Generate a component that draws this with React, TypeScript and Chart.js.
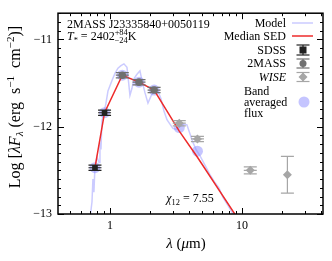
import React, { useEffect, useRef } from 'react';
import { Chart, registerables } from 'chart.js';
Chart.register(...registerables);

// ---- Data ----
const modelWave = [0.706, 0.731, 0.743, 0.756, 0.769, 0.797, 0.826, 0.84, 0.855, 0.87, 0.901, 0.933, 0.966, 1.0, 1.036, 1.091, 1.15, 1.211, 1.276, 1.345, 1.369, 1.417, 1.468, 1.52, 1.602, 1.687, 1.747, 1.841, 1.94, 2.045, 2.192, 2.31, 2.434, 2.565, 2.703, 2.848, 3.001, 3.162, 3.39, 3.637, 3.83, 4.036, 4.253, 4.482, 4.8, 5.24, 5.72, 6.24, 6.69, 7.18, 7.83, 8.55, 9.33];
const modelFlux = [-13.05, -12.86, -12.6, -12.75, -12.47, -12.35, -12.41, -12.18, -12.26, -11.93, -11.84, -11.73, -11.59, -11.53, -11.47, -11.39, -11.33, -11.3, -11.28, -11.32, -11.42, -11.64, -11.56, -11.45, -11.4, -11.36, -11.47, -11.61, -11.73, -11.65, -11.57, -11.59, -11.68, -11.82, -11.92, -11.97, -12.02, -12.03, -12.0, -11.97, -11.98, -12.08, -12.18, -12.26, -12.33, -12.44, -12.55, -12.64, -12.7, -12.81, -12.9, -13.0, -13.09];

const sedWave = [0.77, 0.91, 1.24, 1.66, 2.16, 3.35, 4.6, 9.0, 12.0];
const sedFlux = [-12.47, -11.84, -11.41, -11.49, -11.58, -12.05, -12.35, -13.02, -13.3];

const sdssWave = [0.77, 0.91];
const sdssFlux = [-12.47, -11.84];
const sdssErr = [0.03, 0.03];

const tmassWave = [1.24, 1.66, 2.16];
const tmassFlux = [-11.41, -11.49, -11.58];
const tmassErr = [0.03, 0.03, 0.03];

const wiseWave = [3.35, 4.6, 11.56, 22.09];
const wiseFlux = [-11.96, -12.14, -12.5, -12.55];
const wiseErr = [0.03, 0.03, 0.04, 0.21];
const wiseShowX = [true, true, true, false];

const bandWave = [0.77, 0.91, 1.24, 1.66, 2.16, 3.35, 4.6];
const bandFlux = [-12.47, -11.84, -11.41, -11.49, -11.58, -12.01, -12.28];

const xMajorTicks = [1, 10];
const xMinorTicks = [0.5, 0.6, 0.7, 0.8, 0.9, 2, 3, 4, 5, 6, 7, 8, 9, 20, 30, 40];
const yMajorTicks = [-13, -12, -11];

const X_MIN = 0.404;
const X_MAX = 41.1;
const Y_MIN = -13;
const Y_MAX = -10.7;

// ---- Styles ----
const SERIF = '"Liberation Serif", "DejaVu Serif", serif';
const MODEL_COLOR = 'rgba(130,130,255,0.42)';
const BAND_COLOR = 'rgba(140,140,255,0.5)';
const RED = '#ee2b2b';
const SDSS_COLOR = '#222222';
const TMASS_COLOR = '#707070';
const WISE_COLOR = '#a6a6a6';

const fnt = (size: number, italic = false) => `${italic ? 'italic ' : ''}${size}px ${SERIF}`;

type Piece = { t: string; s?: number; dy?: number; i?: boolean; over?: boolean };

function drawRich(ctx: CanvasRenderingContext2D, pieces: Piece[], x: number, y: number, base: number, align: 'left' | 'center' | 'right') {
  const widths: number[] = [];
  let total = 0;
  let prevStart = 0;
  let prevEnd = 0;
  for (const p of pieces) {
    ctx.font = fnt(base * (p.s ?? 1), p.i);
    widths.push(ctx.measureText(p.t).width);
  }
  {
    let cx = 0;
    pieces.forEach((p, k) => {
      if (p.over) {
        cx = Math.max(prevEnd, prevStart + widths[k]);
      } else {
        prevStart = cx;
        cx += widths[k];
        prevEnd = cx;
      }
    });
    total = cx;
  }
  let cx = align === 'center' ? x - total / 2 : align === 'right' ? x - total : x;
  prevStart = cx;
  prevEnd = cx;
  ctx.textAlign = 'left';
  ctx.textBaseline = 'alphabetic';
  pieces.forEach((p, k) => {
    ctx.font = fnt(base * (p.s ?? 1), p.i);
    if (p.over) {
      ctx.fillText(p.t, prevStart, y + (p.dy ?? 0));
      cx = Math.max(prevEnd, prevStart + widths[k]);
    } else {
      ctx.fillText(p.t, cx, y + (p.dy ?? 0));
      prevStart = cx;
      cx += widths[k];
      prevEnd = cx;
    }
  });
}

function line(ctx: CanvasRenderingContext2D, x1: number, y1: number, x2: number, y2: number) {
  ctx.beginPath();
  ctx.moveTo(x1, y1);
  ctx.lineTo(x2, y2);
  ctx.stroke();
}

function drawErr(ctx: CanvasRenderingContext2D, px: number, py: number, ylo: number, yhi: number, color: string, showX: boolean) {
  ctx.save();
  ctx.strokeStyle = color;
  ctx.lineWidth = 1.2;
  const cap = 6.5;
  line(ctx, px, ylo, px, yhi);
  line(ctx, px - cap, ylo, px + cap, ylo);
  line(ctx, px - cap, yhi, px + cap, yhi);
  if (showX) line(ctx, px - cap, py, px + cap, py);
  ctx.restore();
}

const errPlugin = {
  id: 'errbars',
  beforeDatasetDraw(chart: any, args: any) {
    const { ctx, scales } = chart;
    const xs = scales.x;
    const ys = scales.y;
    const sets: Record<number, [number[], number[], number[], string, boolean[] | null]> = {
      0: [sdssWave, sdssFlux, sdssErr, SDSS_COLOR, null],
      1: [tmassWave, tmassFlux, tmassErr, TMASS_COLOR, null],
      2: [wiseWave, wiseFlux, wiseErr, WISE_COLOR, wiseShowX],
    };
    const s = sets[args.index];
    if (!s) return;
    const [w, f, e, c, sx] = s;
    ctx.save();
    const a = chart.chartArea;
    ctx.beginPath();
    ctx.rect(a.left, a.top, a.right - a.left, a.bottom - a.top);
    ctx.clip();
    w.forEach((wv, k) => {
      const px = xs.getPixelForValue(wv);
      const py = ys.getPixelForValue(f[k]);
      drawErr(ctx, px, py, ys.getPixelForValue(f[k] - e[k]), ys.getPixelForValue(f[k] + e[k]), c, sx ? sx[k] : true);
    });
    ctx.restore();
  },
};

const decorPlugin = {
  id: 'decor',
  afterDraw(chart: any) {
    const { ctx, chartArea, scales } = chart;
    const { left, right, top, bottom } = chartArea;
    const xs = scales.x;
    const ys = scales.y;
    ctx.save();
    ctx.strokeStyle = '#000';
    ctx.lineWidth = 1;
    for (const v of xMajorTicks) {
      const p = Math.round(xs.getPixelForValue(v)) + 0.5;
      line(ctx, p, bottom, p, bottom - 6);
      line(ctx, p, top, p, top + 6);
    }
    for (const v of xMinorTicks) {
      const p = Math.round(xs.getPixelForValue(v)) + 0.5;
      line(ctx, p, bottom, p, bottom - 3);
      line(ctx, p, top, p, top + 3);
    }
    for (let k = 0; k <= 23; k++) {
      const v = Y_MIN + k * 0.1;
      const p = Math.round(ys.getPixelForValue(v)) + 0.5;
      const major = yMajorTicks.some((m) => Math.abs(m - v) < 1e-6);
      const len = major ? 6 : 3;
      line(ctx, left, p, left + len, p);
      line(ctx, right, p, right - len, p);
    }
    ctx.lineWidth = 1.5;
    ctx.strokeRect(left, top, right - left, bottom - top);

    ctx.fillStyle = '#000';
    ctx.font = fnt(12);
    ctx.textBaseline = 'alphabetic';
    ctx.textAlign = 'left';
    ctx.fillText('2MASS J23335840+0050119', left + 9, 28);
    drawRich(ctx, [
      { t: 'T', i: true },
      { t: '*', s: 0.7, dy: 3 },
      { t: ' = 2402' },
      { t: '+84', s: 0.7, dy: -5 },
      { t: '\u221224', s: 0.7, dy: 3, over: true },
      { t: 'K' },
    ], left + 9, 40, 12, 'left');
    drawRich(ctx, [
      { t: '\u03c7', i: true },
      { t: '12', s: 0.7, dy: 3 },
      { t: ' = 7.55' },
    ], 190, 202, 12, 'center');

    drawRich(ctx, [
      { t: '\u03bb', i: true },
      { t: ' (' },
      { t: '\u03bc', i: true },
      { t: 'm)' },
    ], 186, 248, 15, 'center');
    ctx.save();
    ctx.translate(20, 107);
    ctx.rotate(-Math.PI / 2);
    drawRich(ctx, [
      { t: 'Log [' },
      { t: '\u03bb', i: true },
      { t: 'F', i: true },
      { t: '\u03bb', s: 0.7, dy: 3, i: true },
      { t: ' (erg  s' },
      { t: '\u22121', s: 0.7, dy: -6 },
      { t: '  cm' },
      { t: '\u22122', s: 0.7, dy: -6 },
      { t: ')]' },
    ], 0, 0, 16, 'center');
    ctx.restore();

    const tx = 286;
    const sx = 303;
    ctx.font = fnt(12);
    ctx.textAlign = 'right';
    ctx.fillText('Model', tx, 27);
    ctx.fillText('Median SED', tx, 40);
    ctx.fillText('SDSS', tx, 54);
    ctx.fillText('2MASS', tx, 67);
    ctx.font = fnt(12, true);
    ctx.fillText('WISE', tx, 81);
    ctx.font = fnt(12);
    ctx.textAlign = 'left';
    ctx.fillText('Band', 244, 95);
    ctx.fillText('averaged', 244, 106);
    ctx.fillText('flux', 244, 117);

    ctx.lineWidth = 1.5;
    ctx.strokeStyle = MODEL_COLOR;
    line(ctx, 292, 23, 313, 23);
    ctx.strokeStyle = RED;
    line(ctx, 292, 36, 313, 36);

    drawErr(ctx, sx, 50, 45, 55, SDSS_COLOR, false);
    ctx.fillStyle = SDSS_COLOR;
    ctx.fillRect(sx - 3.5, 46.5, 7, 7);
    drawErr(ctx, sx, 63.5, 59, 68, TMASS_COLOR, false);
    ctx.fillStyle = TMASS_COLOR;
    ctx.beginPath();
    ctx.arc(sx, 63.5, 3.5, 0, Math.PI * 2);
    ctx.fill();
    drawErr(ctx, sx, 77, 72.5, 81.5, WISE_COLOR, false);
    ctx.fillStyle = WISE_COLOR;
    ctx.beginPath();
    ctx.moveTo(sx, 72.5);
    ctx.lineTo(sx + 4.5, 77);
    ctx.lineTo(sx, 81.5);
    ctx.lineTo(sx - 4.5, 77);
    ctx.closePath();
    ctx.fill();
    ctx.fillStyle = BAND_COLOR;
    ctx.beginPath();
    ctx.arc(304, 102, 5.5, 0, Math.PI * 2);
    ctx.fill();
    ctx.restore();
  },
};

const pts = (w: number[], f: number[]) => w.map((x, k) => ({ x, y: f[k] }));

export default function App() {
  const ref = useRef<HTMLCanvasElement | null>(null);
  useEffect(() => {
    document.body.style.margin = '0';
    const canvas = ref.current;
    if (!canvas) return;
    const chart = new Chart(canvas, {
      type: 'scatter',
      data: {
        datasets: [
          {
            label: 'SDSS',
            data: pts(sdssWave, sdssFlux),
            pointStyle: 'rect',
            pointRadius: 4,
            backgroundColor: SDSS_COLOR,
            borderColor: SDSS_COLOR,
            borderWidth: 0,
            order: 0,
          } as any,
          {
            label: '2MASS',
            data: pts(tmassWave, tmassFlux),
            pointStyle: 'circle',
            pointRadius: 3.8,
            backgroundColor: TMASS_COLOR,
            borderWidth: 0,
            order: 1,
          },
          {
            label: 'WISE',
            data: pts(wiseWave, wiseFlux),
            pointStyle: 'rectRot',
            pointRadius: 4.5,
            backgroundColor: WISE_COLOR,
            borderWidth: 0,
            order: 2,
          },
          {
            type: 'line',
            label: 'Median SED',
            data: pts(sedWave, sedFlux),
            borderColor: RED,
            borderWidth: 1.5,
            pointRadius: 0,
            fill: false,
            tension: 0,
            order: 3,
          } as any,
          {
            label: 'Band averaged flux',
            data: pts(bandWave, bandFlux),
            pointStyle: 'circle',
            pointRadius: 5.5,
            backgroundColor: BAND_COLOR,
            borderWidth: 0,
            order: 4,
          },
          {
            type: 'line',
            label: 'Model',
            data: pts(modelWave, modelFlux),
            borderColor: MODEL_COLOR,
            borderWidth: 1.5,
            pointRadius: 0,
            fill: false,
            tension: 0,
            order: 5,
          } as any,
        ],
      },
      options: {
        animation: false,
        responsive: false,
        events: [],
        layout: { padding: { left: 0, right: 9, top: 10, bottom: 0 } },
        plugins: { legend: { display: false }, tooltip: { enabled: false } },
        scales: {
          x: {
            type: 'logarithmic',
            min: X_MIN,
            max: X_MAX,
            grid: { display: false, drawTicks: false },
            border: { display: false },
            afterBuildTicks: (s: any) => {
              s.ticks = xMajorTicks.map((v) => ({ value: v }));
            },
            afterFit: (s: any) => {
              s.height = 47;
            },
            ticks: {
              autoSkip: false,
              maxRotation: 0,
              padding: 5,
              color: '#000',
              font: { family: SERIF, size: 12 },
              callback: (v: any) => String(v),
            },
          },
          y: {
            type: 'linear',
            min: Y_MIN,
            max: Y_MAX,
            grid: { display: false, drawTicks: false },
            border: { display: false },
            afterBuildTicks: (s: any) => {
              s.ticks = yMajorTicks.map((v) => ({ value: v }));
            },
            afterFit: (s: any) => {
              s.width = 58;
            },
            ticks: {
              padding: 6,
              color: '#000',
              font: { family: SERIF, size: 12 },
              callback: (v: any) => '\u2212' + Math.abs(Number(v)),
            },
          },
        },
      },
      plugins: [errPlugin, decorPlugin],
    });
    return () => chart.destroy();
  }, []);
  return (
    <div style={{ position: 'absolute', left: 0, top: 0, width: 332, height: 261 }}>
      <canvas ref={ref} width={332} height={261} style={{ width: 332, height: 261, display: 'block' }} />
    </div>
  );
}
